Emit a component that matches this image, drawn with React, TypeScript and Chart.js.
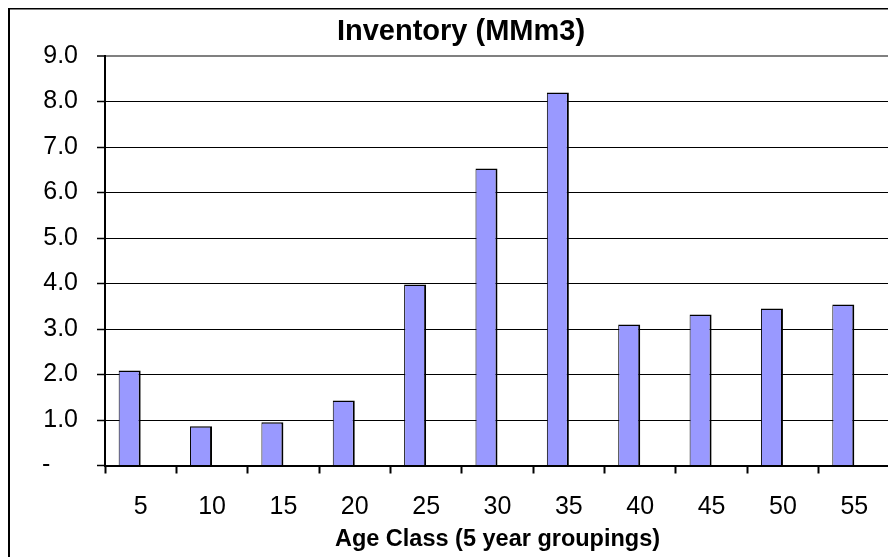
import React, { useEffect, useRef } from "react";
import { Chart, registerables } from "chart.js";

Chart.register(...registerables);

const categories = ["5", "10", "15", "20", "25", "30", "35", "40", "45", "50", "55"];
const inventory = [2.09, 0.86, 0.95, 1.43, 3.98, 6.53, 8.2, 3.1, 3.32, 3.45, 3.54];
const emptySeries = categories.map(() => null as number | null);
const yMin = 0;
const yMax = 9;
const yStep = 1;
const titleText = "Inventory (MMm3)";
const xTitleText = "Age Class (5 year groupings)";

const FONT = "'Liberation Sans', Arial, sans-serif";

const framePlugin = {
  id: "frame",
  beforeDraw(chart: any) {
    const { ctx, width, height } = chart;
    ctx.save();
    ctx.fillStyle = "#ffffff";
    ctx.fillRect(0, 0, width, height);
    ctx.restore();
  },
  afterDraw(chart: any) {
    const { ctx, chartArea: a, width, height } = chart;
    ctx.save();
    ctx.strokeStyle = "#808080";
    ctx.lineWidth = 2;
    ctx.beginPath();
    ctx.moveTo(a.right, a.top);
    ctx.lineTo(a.right, a.bottom);
    ctx.stroke();
    ctx.fillStyle = "#000000";
    ctx.fillRect(0, 0, 2, height);
    ctx.fillRect(0, 0, width, 1.5);
    ctx.restore();
  },
};

export default function App() {
  const ref = useRef<HTMLCanvasElement | null>(null);
  useEffect(() => {
    if (!ref.current) return;
    document.body.style.overflow = "hidden";
    const chart = new Chart(ref.current, {
      type: "bar",
      data: {
        labels: categories,
        datasets: [
          {
            label: "Inventory",
            data: inventory,
            backgroundColor: "#9999FF",
            borderColor: "#000000",
            borderWidth: { left: 1, top: 1.5, right: 2, bottom: 0 } as any,
            categoryPercentage: 0.617,
            barPercentage: 1,
          },
          {
            label: "",
            data: emptySeries,
            backgroundColor: "#993366",
            categoryPercentage: 0.617,
            barPercentage: 1,
          },
        ],
      },
      options: {
        responsive: false,
        animation: false,
        layout: { padding: { left: 24, right: 6, top: 0, bottom: 0 } },
        plugins: {
          legend: { display: false },
          tooltip: { enabled: false },
          title: {
            display: true,
            text: titleText,
            color: "#000000",
            font: { family: FONT, size: 29, weight: "bold" },
            padding: { top: 7, bottom: 6.2 },
          },
        },
        scales: {
          x: {
            grid: {
              display: true,
              offset: true,
              drawOnChartArea: false,
              drawTicks: true,
              tickLength: 8,
              tickColor: "#000000",
              tickWidth: 2,
            },
            border: { display: true, color: "#000000", width: 2 },
            ticks: {
              color: "#000000",
              font: { family: FONT, size: 25 },
              padding: 19,
              maxRotation: 0,
              autoSkip: false,
            },
            title: {
              display: true,
              text: xTitleText,
              color: "#000000",
              font: { family: FONT, size: 23.5, weight: "bold" },
              padding: { top: 0, bottom: 3 },
            },
            afterFit(scale: any) {
              scale.height = 91.5;
            },
          },
          y: {
            min: yMin,
            max: yMax,
            grid: {
              color: (c: any) => (c.tick && c.tick.value === yMax ? "#808080" : "#000000"),
              lineWidth: (c: any) => (c.tick && c.tick.value === yMax ? 2 : 1),
              tickLength: 8,
              tickColor: "#000000",
              tickWidth: 1.5,
            },
            border: { display: true, color: "#000000", width: 2 },
            ticks: {
              stepSize: yStep,
              color: "#000000",
              font: { family: FONT, size: 25 },
              padding: 19,
              callback: (v: any) => (Number(v) === 0 ? "-    " : Number(v).toFixed(1)),
            },
            afterFit(scale: any) {
              scale.width = 73;
            },
          },
        },
      },
      plugins: [framePlugin],
    });
    return () => chart.destroy();
  }, []);
  return <canvas ref={ref} width={888} height={549} style={{ display: "block" }} />;
}
